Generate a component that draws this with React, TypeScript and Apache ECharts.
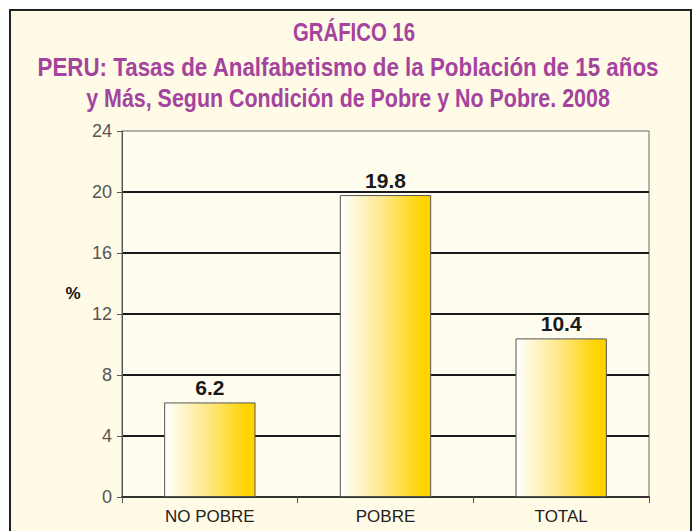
import React, { useEffect, useRef } from "react";
import * as echarts from "echarts";

const categories = ["NO POBRE", "POBRE", "TOTAL"];
const values = [6.2, 19.8, 10.4];
const titleLines = [
  "GRÁFICO 16",
  "PERU: Tasas de Analfabetismo de la Población de 15 años",
  "y Más, Segun Condición de Pobre y No Pobre. 2008",
];
const yAxisName = "%";

const SANS = "'Liberation Sans', Arial, sans-serif";

export default function App() {
  const ref = useRef<HTMLDivElement>(null);
  useEffect(() => {
    document.body.style.margin = "0";
    const chart = echarts.init(ref.current!, null, { renderer: "svg" });
    const purple = "#A4449E";
    const titleFont = `bold 26px ${SANS}`;
    const ctx = document.createElement("canvas").getContext("2d")!;
    ctx.font = titleFont;
    const targets = [
      { cx: 354, cy: 32, w: 122 },
      { cx: 348, cy: 67, w: 622 },
      { cx: 348, cy: 98, w: 524 },
    ];
    chart.setOption({
      animation: false,
      backgroundColor: "#ffffff",
      graphic: [
        {
          type: "rect",
          z: -10,
          shape: { x: 10, y: 10, width: 681, height: 530 },
          style: { fill: "#FFFBE6", stroke: "#222", lineWidth: 2 },
        },
        ...titleLines.map((t, i) => {
          const w = ctx.measureText(t).width || targets[i].w;
          return {
            type: "text",
            x: targets[i].cx,
            y: targets[i].cy,
            scaleX: targets[i].w / w,
            style: {
              text: t,
              fill: purple,
              font: titleFont,
              textAlign: "center",
              textVerticalAlign: "middle",
            },
          };
        }),
        {
          type: "text",
          x: 73,
          y: 293,
          style: {
            text: yAxisName,
            fill: "#111",
            font: `bold 17px ${SANS}`,
            textAlign: "center",
            textVerticalAlign: "middle",
          },
        },
      ],
      grid: {
        left: 122,
        top: 131,
        right: 45,
        bottom: 34,
        show: true,
        backgroundColor: "#FFFDEF",
        borderColor: "#666",
        borderWidth: 1,
      },
      xAxis: {
        type: "category",
        data: categories,
        axisLine: { lineStyle: { color: "#333", width: 2 } },
        axisTick: { show: true, length: 6, lineStyle: { color: "#555" } },
        axisLabel: {
          color: "#222",
          fontSize: 17,
          fontFamily: SANS,
          margin: 11,
        },
      },
      yAxis: {
        type: "value",
        min: 0,
        max: 24,
        interval: 4,
        axisLine: { show: true, lineStyle: { color: "#555", width: 1 } },
        axisTick: { show: true, length: 5, lineStyle: { color: "#555" } },
        axisLabel: {
          color: "#555",
          fontSize: 18,
          fontFamily: SANS,
          margin: 10,
        },
        splitLine: {
          show: true,
          showMaxLine: false,
          lineStyle: { color: "#1a1a1a", width: 2 },
        },
      },
      series: [
        {
          type: "bar",
          data: values,
          barWidth: "52%",
          itemStyle: {
            color: new echarts.graphic.LinearGradient(0, 0, 1, 0, [
              { offset: 0, color: "#FFFFFF" },
              { offset: 0.5, color: "#FFE680" },
              { offset: 0.9, color: "#FFD400" },
              { offset: 1, color: "#FFD200" },
            ]),
            borderColor: "#555",
            borderWidth: 1,
          },
          label: {
            show: true,
            position: "top",
            distance: 4,
            color: "#1a1a1a",
            fontSize: 21,
            fontWeight: "bold",
            fontFamily: SANS,
          },
        },
      ],
    });
    return () => chart.dispose();
  }, []);
  return <div ref={ref} style={{ width: 694, height: 531 }} />;
}
